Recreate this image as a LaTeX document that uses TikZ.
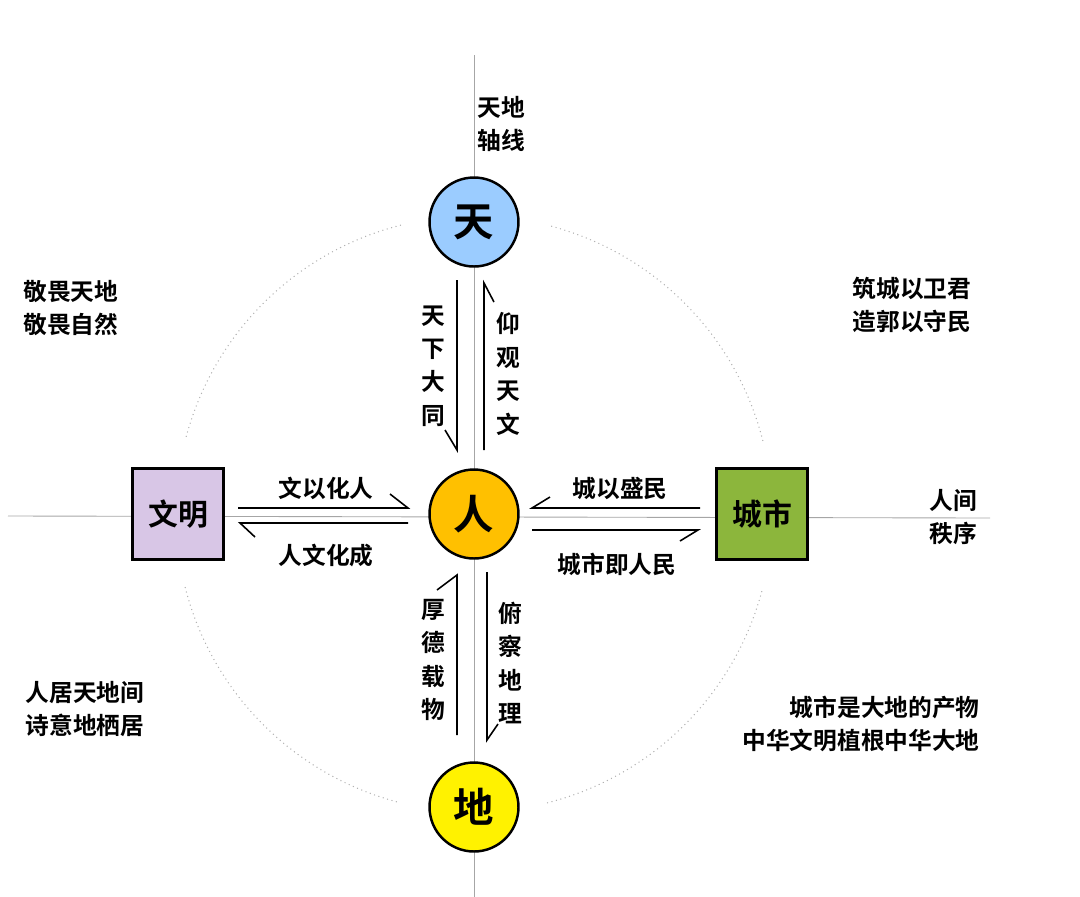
\documentclass[tikz,border=0pt]{standalone}
\usepackage{fontspec}
\setmainfont{Noto Sans CJK SC Bold}
\usetikzlibrary{calc}
\definecolor{skyc}{RGB}{155,204,255}
\definecolor{renc}{RGB}{255,192,0}
\definecolor{wmc}{RGB}{216,198,230}
\definecolor{csc}{RGB}{140,182,60}

\begin{document}
\begin{tikzpicture}[%
  x=0.02cm, y=-0.02cm,
  axis/.style = {gray!70, line width=0.5pt},
  ring/.style = {gray!60, dotted, line width=0.6pt},
  harp/.style = {black, line width=0.9pt},
  ball/.style = {circle, draw, line width=1.4pt, minimum size=1.78cm, font=\fontsize{23}{23}\selectfont},
  box/.style  = {draw, line width=1.2pt, minimum size=1.82cm, font=\fontsize{17}{17}\selectfont},
  lbl/.style  = {font=\fontsize{13.5}{18.5}\selectfont, align=left},
  vlbl/.style = {font=\fontsize{13.5}{19}\selectfont, align=center},
]
  \useasboundingbox (0,0) rectangle (1080,897);

  % axes and ring
  \draw[axis] (474,55) -- (474,897);
  \draw[axis] (8,516) -- (990,518);
  \foreach \a in {15,105,195,285}
    \draw[ring] ($(474,514)+(\a:298)$) arc[start angle=\a, end angle=\a+61, radius=298];

  % nodes
  \node[ball, fill=skyc] (tian) at (474,222) {天};
  \node[ball, fill=renc] (ren) at (474,514) {人};
  \node[ball, fill=yellow] (di) at (474,807) {地};
  \node[box, fill=wmc] (wm) at (178,514) {文明};
  \node[box, fill=csc] (cs) at (762,514) {城市};

  % harpoons (line + one barb)
  \draw[harp] (457,280) -- (457,450) -- (445,430);
  \draw[harp] (484,450) -- (484,283) -- (494,302);
  \draw[harp] (457,735) -- (457,575) -- (437,590);
  \draw[harp] (487,572) -- (487,740) -- (498,724);
  \draw[harp] (238,508) -- (408,508) -- (390,494);
  \draw[harp] (408,523) -- (240,523) -- (255,537);
  \draw[harp] (700,508) -- (532,508) -- (550,497);
  \draw[harp] (532,530) -- (698,530) -- (680,541);

  % labels
  \node[vlbl] (l1) at (433,366) {天\\下\\大\\同};
  \node[vlbl] (l2) at (508,374) {仰\\观\\天\\文};
  \node[vlbl] (l3) at (433,660) {厚\\德\\载\\物};
  \node[vlbl] (l4) at (510,663) {俯\\察\\地\\理};
  \node[lbl] (l5) at (326,488) {文以化人};
  \node[lbl] (l6) at (326,556) {人文化成};
  \node[lbl] (l7) at (620,488) {城以盛民};
  \node[lbl] (l8) at (617,564) {城市即人民};
  \node[lbl] (l9) at (501,124) {天地\\轴线};
  \node[lbl] (l10) at (953,517) {人间\\秩序};
  \node[lbl] (l11) at (71,308) {敬畏天地\\敬畏自然};
  \node[lbl, align=right] (l12) at (912,305) {筑城以卫君\\造郭以守民};
  \node[lbl] (l13) at (85,709) {人居天地间\\诗意地栖居};
  \node[lbl, align=right] (l14) at (861,724) {城市是大地的产物\\中华文明植根中华大地};
\end{tikzpicture}
\end{document}
